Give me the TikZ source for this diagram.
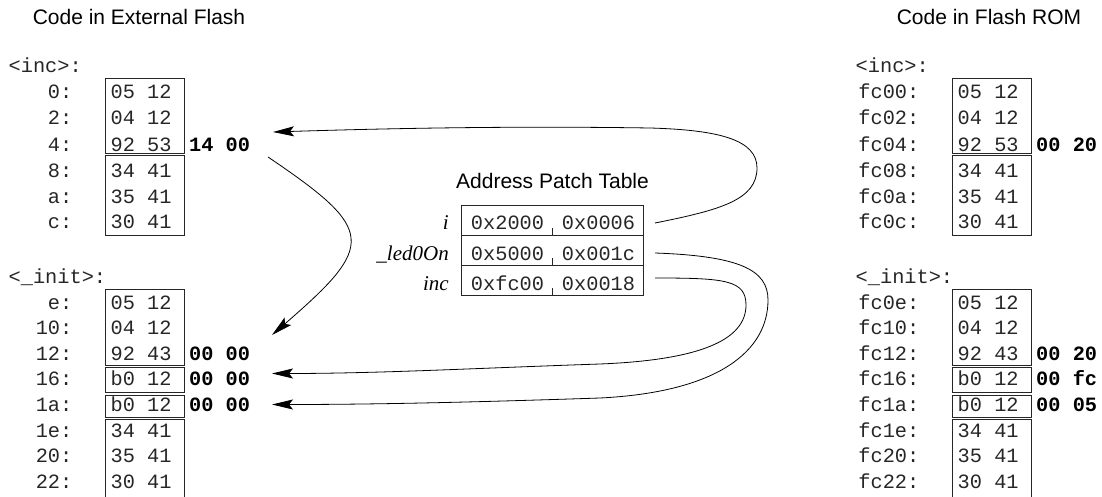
\documentclass[tikz,border=0pt]{standalone}
\usepackage{fontspec}
\setmainfont{Liberation Serif}
\newfontfamily\sansf{Liberation Sans}
\newfontfamily\monof{Liberation Mono}
\usetikzlibrary{arrows.meta}
\begin{document}
\begin{tikzpicture}[x=1pt,y=-1pt,
  mono/.style={font=\monof\fontsize{20.3}{24}\selectfont, inner sep=0pt, text=black!85},
  bmono/.style={font=\monof\bfseries\fontsize{20.3}{24}\selectfont, inner sep=0pt, text=black},
  addr/.style={mono, anchor=base east},
  hex/.style={mono, anchor=base west},
  patch/.style={bmono, anchor=base west},
  cell/.style={mono, anchor=base},
  title/.style={font=\sansf\fontsize{21}{25}\selectfont, inner sep=0pt, anchor=base},
  sym/.style={font=\itshape\fontsize{21}{25}\selectfont, inner sep=0pt, anchor=base east},
  membox/.style={draw=black!85, line width=0.9pt},
  ptr/.style={line width=0.8pt, -{Stealth[length=21pt,width=10pt,inset=4pt]}}]
\useasboundingbox (0,0) rectangle (1102,497);
\clip (0,0) rectangle (1102,497);

% titles
\node[title] (tL) at (139,25) {Code in External Flash};
\node[title] (tR) at (989,24.5) {Code in Flash ROM};
\node[title] (tP) at (552.5,188.5) {Address Patch Table};

% ---------- left column ----------
\node[hex] (Linc) at (8.5,72.5) {<inc>:};
\foreach \a/\h/\y [count=\i] in {0:/05 12/98.5, 2:/04 12/125, 4:/92 53/152, 8:/34 41/178, a:/35 41/203.5, c:/30 41/228.5}{
  \node[addr] (LUa\i) at (72.5,\y) {\a};
  \node[hex] (LUh\i) at (110.5,\y) {\h};
}
\draw[membox] (105,78) rectangle (184,153.5);
\draw[membox] (105,155.5) rectangle (184,235);
\node[patch] (LUp) at (189,152) {14 00};

\node[hex] (Linit) at (8.5,283) {<\_init>:};
\foreach \a/\h/\y [count=\i] in {e:/05 12/309.2, 10:/04 12/334.8, 12:/92 43/360.2, 16:/b0 12/385.5, 1a:/b0 12/411.4, 1e:/34 41/437.2, 20:/35 41/462.8, 22:/30 41/488.4}{
  \node[addr] (LLa\i) at (72.5,\y) {\a};
  \node[hex] (LLh\i) at (110.5,\y) {\h};
}
\draw[membox] (105,289.5) rectangle (184,365.5);
\draw[membox] (105,367.5) rectangle (184,392.5);
\draw[membox] (105,395) rectangle (184,417);
\draw[membox] (105,419.5) rectangle (184,520);
\node[patch] (LLp3) at (189,360.2) {00 00};
\node[patch] (LLp4) at (189,385.5) {00 00};
\node[patch] (LLp5) at (189,411.4) {00 00};

% ---------- right column ----------
\node[hex] (Rinc) at (855.5,72.5) {<inc>:};
\foreach \a/\h/\y [count=\i] in {fc00:/05 12/98.5, fc02:/04 12/125, fc04:/92 53/152, fc08:/34 41/178, fc0a:/35 41/203.5, fc0c:/30 41/228.5}{
  \node[addr] (RUa\i) at (919.5,\y) {\a};
  \node[hex] (RUh\i) at (957.5,\y) {\h};
}
\draw[membox] (952,78) rectangle (1031,153.5);
\draw[membox] (952,155.5) rectangle (1031,235);
\node[patch] (RUp) at (1036,152) {00 20};

\node[hex] (Rinit) at (855.5,283) {<\_init>:};
\foreach \a/\h/\y [count=\i] in {fc0e:/05 12/309.2, fc10:/04 12/334.8, fc12:/92 43/360.2, fc16:/b0 12/385.5, fc1a:/b0 12/411.4, fc1e:/34 41/437.2, fc20:/35 41/462.8, fc22:/30 41/488.4}{
  \node[addr] (RLa\i) at (919.5,\y) {\a};
  \node[hex] (RLh\i) at (957.5,\y) {\h};
}
\draw[membox] (952,289.5) rectangle (1031,365.5);
\draw[membox] (952,367.5) rectangle (1031,392.5);
\draw[membox] (952,395) rectangle (1031,417);
\draw[membox] (952,419.5) rectangle (1031,520);
\node[patch] (RLp3) at (1036,360.2) {00 20};
\node[patch] (RLp4) at (1036,385.5) {00 fc};
\node[patch] (RLp5) at (1036,411.4) {00 05};

% ---------- address patch table ----------
\draw[membox] (461.7,205) rectangle (643.3,295);
\draw[membox] (461.7,235) -- (643.3,235);
\draw[membox] (461.7,265) -- (643.3,265);
\foreach \yb in {235,265,295}{
  \draw[membox] (552.3,\yb-7) -- (552.3,\yb);
}
\node[sym] (Si) at (449,229.5) {i};
\node[cell] (T1a) at (507.5,229.5) {0x2000};
\node[cell] (T1b) at (598.5,229.5) {0x0006};
\node[sym] (Sled) at (449,260) {\_led0On};
\node[cell] (T2a) at (507.5,260) {0x5000};
\node[cell] (T2b) at (598.5,260) {0x001c};
\node[sym] (Sinc) at (449,290) {inc};
\node[cell] (T3a) at (507.5,290) {0xfc00};
\node[cell] (T3b) at (598.5,290) {0x0018};

% ---------- connectors ----------
\coordinate (s1) at (655,223);
\coordinate (e1) at (273,132);
\coordinate (s2) at (268,157);
\coordinate (e2) at (272,335);
\coordinate (s3) at (655,253);
\coordinate (e3) at (272,404.5);
\coordinate (s4) at (655,278);
\coordinate (e4) at (272,373.5);

\draw[ptr] (s1) .. controls (720,210) and (757,200) .. (757,168)
  .. controls (757,140) and (720,130) .. (650,128)
  .. controls (520,126) and (400,128) .. (e1);
\draw[ptr] (s2) .. controls (376,230) and (376,245) .. (e2);
\draw[ptr] (s3) .. controls (740,256) and (768,270) .. (768,300)
  .. controls (768,350) and (720,392) .. (600,398)
  .. controls (480,402) and (380,404.5) .. (e3);
\draw[ptr] (s4) .. controls (725,278) and (746,280) .. (746,305)
  .. controls (746,340) and (700,360) .. (600,364)
  .. controls (480,368) and (380,373.5) .. (e4);
\end{tikzpicture}
\end{document}
